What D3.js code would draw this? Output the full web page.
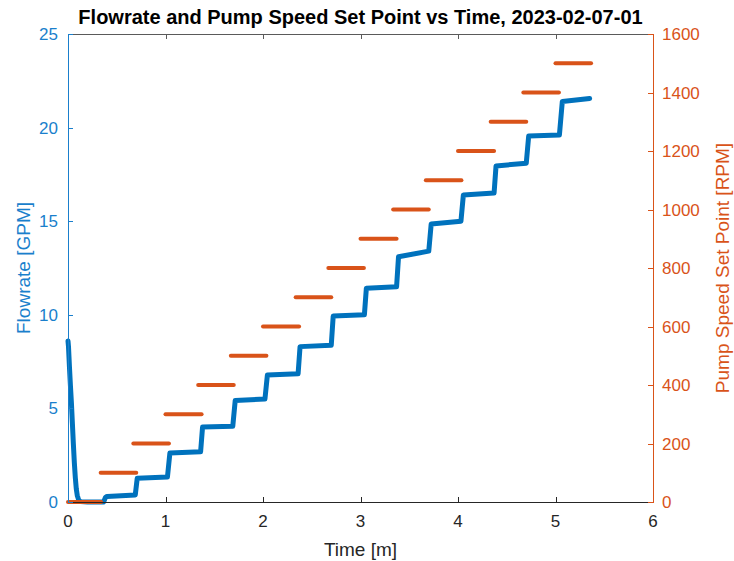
<!DOCTYPE html>
<html>
<head>
<meta charset="utf-8">
<script src="https://cdn.jsdelivr.net/npm/d3@7"></script>
<style>
    body { margin: 0; background: #ffffff; }
    svg { display: block; font-family: "Liberation Sans", Arial, sans-serif; }
</style>
</head>
<body>
<div class="chart"></div>
<script>
// Flowrate trace (time in minutes, flow in GPM)
const flowTime = [0, 0.005, 0.015, 0.025, 0.035, 0.045, 0.055, 0.065, 0.075, 0.085, 0.095, 0.11, 0.13, 0.2, 0.3, 0.365,
    0.385, 0.40, 0.69,
    0.71, 1.02,
    1.045, 1.36,
    1.38, 1.69,
    1.715, 2.02,
    2.045, 2.36,
    2.38, 2.70,
    2.72, 3.04,
    3.06, 3.37,
    3.39, 3.70,
    3.725, 4.03,
    4.055, 4.37,
    4.39, 4.70,
    4.725, 5.04,
    5.07, 5.35];
const flowGpm = [8.6, 8.3, 7.2, 6.2, 5.3, 4.2, 3.1, 2.1, 1.3, 0.7, 0.35, 0.1, 0.02, 0, 0, 0,
    0.25, 0.30, 0.38,
    1.27, 1.33,
    2.62, 2.68,
    4.0, 4.05,
    5.42, 5.5,
    6.78, 6.85,
    8.3, 8.37,
    9.93, 10.0,
    11.42, 11.5,
    13.1, 13.4,
    14.85, 15.0,
    16.4, 16.5,
    17.95, 18.1,
    19.55, 19.6,
    21.4, 21.55];

// Pump speed set point steps
const spRpm = [0, 100, 200, 300, 400, 500, 600, 700, 800, 900, 1000, 1100, 1200, 1300, 1400, 1500];
const spStart = [0, 0.335, 0.67, 1.0, 1.335, 1.67, 2.0, 2.335, 2.67, 3.0, 3.335, 3.67, 4.0, 4.335, 4.67, 5.0];
const spEnd = [0.34, 0.70, 1.035, 1.37, 1.70, 2.035, 2.37, 2.70, 3.035, 3.37, 3.70, 4.035, 4.37, 4.70, 5.035, 5.365];

const xTicks = [0, 1, 2, 3, 4, 5, 6];
const leftTicks = [0, 5, 10, 15, 20, 25];
const rightTicks = [0, 200, 400, 600, 800, 1000, 1200, 1400, 1600];

const blue = '#0072bd';
const orange = '#d95319';
const blueAxis = '#1a7fcc';
const orangeAxis = '#d95319';
const dark = '#262626';

const width = 734, height = 561;
const margin = { top: 34, right: 81, bottom: 59, left: 68 };

function renderChart() {
    const svg = d3.select('.chart').append('svg')
        .attr('width', width)
        .attr('height', height);

    const x = d3.scaleLinear().domain([0, 6]).range([margin.left, width - margin.right]);
    const yL = d3.scaleLinear().domain([0, 25]).range([height - margin.bottom, margin.top]);
    const yR = d3.scaleLinear().domain([0, 1600]).range([height - margin.bottom, margin.top]);

    const x0 = margin.left, x1 = width - margin.right;
    const y0 = height - margin.bottom, y1 = margin.top;
    const tick = 5;

    // Flowrate trace
    const flowPoints = flowTime.map((t, i) => [t, flowGpm[i]]);
    const line = d3.line().x(d => x(d[0])).y(d => yL(d[1]));
    svg.append('path')
        .datum(flowPoints)
        .attr('d', line)
        .attr('fill', 'none')
        .attr('stroke', blue)
        .attr('stroke-width', 5)
        .attr('stroke-linejoin', 'round')
        .attr('stroke-linecap', 'round');

    // Set point segments
    svg.append('g').selectAll('line')
        .data(spRpm)
        .enter()
        .append('line')
        .attr('x1', (d, i) => x(spStart[i]))
        .attr('x2', (d, i) => x(spEnd[i]))
        .attr('y1', d => yR(d))
        .attr('y2', d => yR(d))
        .attr('stroke', orange)
        .attr('stroke-width', 4)
        .attr('stroke-linecap', 'round');

    // Box: bottom and top lines with inward ticks
    const frame = svg.append('g').attr('stroke', dark).attr('stroke-width', 1).attr('shape-rendering', 'crispEdges');
    frame.append('line').attr('x1', x0).attr('x2', x1).attr('y1', y0 + 0.5).attr('y2', y0 + 0.5);
    frame.append('line').attr('x1', x0).attr('x2', x1).attr('y1', y1 + 0.5).attr('y2', y1 + 0.5).attr('stroke', '#5a5a5a');
    xTicks.forEach(t => {
        frame.append('line').attr('x1', Math.round(x(t)) + 0.5).attr('x2', Math.round(x(t)) + 0.5).attr('y1', y0).attr('y2', y0 - tick);
        frame.append('line').attr('x1', Math.round(x(t)) + 0.5).attr('x2', Math.round(x(t)) + 0.5).attr('y1', y1).attr('y2', y1 + tick).attr('stroke', '#5a5a5a');
    });

    // Left axis (flowrate)
    const left = svg.append('g').attr('shape-rendering', 'crispEdges');
    left.append('line').attr('x1', x0 + 0.5).attr('x2', x0 + 0.5).attr('y1', y1).attr('y2', y0 + 1).attr('stroke', blueAxis);
    leftTicks.forEach(v => {
        left.append('line').attr('x1', x0).attr('x2', x0 + tick)
            .attr('y1', Math.round(yL(v)) + 0.5).attr('y2', Math.round(yL(v)) + 0.5).attr('stroke', blueAxis);
    });

    // Right axis (pump speed)
    const right = svg.append('g').attr('shape-rendering', 'crispEdges');
    right.append('line').attr('x1', x1 + 0.5).attr('x2', x1 + 0.5).attr('y1', y1).attr('y2', y0 + 1).attr('stroke', orangeAxis);
    rightTicks.forEach(v => {
        right.append('line').attr('x1', x1 - tick).attr('x2', x1)
            .attr('y1', Math.round(yR(v)) + 0.5).attr('y2', Math.round(yR(v)) + 0.5).attr('stroke', orangeAxis);
    });

    // Tick labels
    svg.append('g').selectAll('text')
        .data(xTicks)
        .enter()
        .append('text')
        .attr('x', d => x(d))
        .attr('y', y0 + 25)
        .attr('text-anchor', 'middle')
        .attr('font-size', 17)
        .attr('fill', dark)
        .text(d => d);

    svg.append('g').selectAll('text')
        .data(leftTicks)
        .enter()
        .append('text')
        .attr('x', x0 - 10)
        .attr('y', d => yL(d) + 6)
        .attr('text-anchor', 'end')
        .attr('font-size', 17)
        .attr('fill', blueAxis)
        .text(d => d);

    svg.append('g').selectAll('text')
        .data(rightTicks)
        .enter()
        .append('text')
        .attr('x', x1 + 9)
        .attr('y', d => yR(d) + 6)
        .attr('text-anchor', 'start')
        .attr('font-size', 17)
        .attr('fill', orangeAxis)
        .text(d => d);

    // Axis labels and title
    svg.append('text')
        .attr('x', (x0 + x1) / 2)
        .attr('y', 556)
        .attr('text-anchor', 'middle')
        .attr('font-size', 19)
        .attr('fill', dark)
        .text('Time [m]');

    svg.append('text')
        .attr('transform', `translate(30, ${(y0 + y1) / 2}) rotate(-90)`)
        .attr('text-anchor', 'middle')
        .attr('font-size', 19)
        .attr('fill', blueAxis)
        .text('Flowrate [GPM]');

    svg.append('text')
        .attr('transform', `translate(729, ${(y0 + y1) / 2}) rotate(-90)`)
        .attr('text-anchor', 'middle')
        .attr('font-size', 19)
        .attr('fill', orangeAxis)
        .text('Pump Speed Set Point [RPM]');

    svg.append('text')
        .attr('x', (x0 + x1) / 2)
        .attr('y', 24)
        .attr('text-anchor', 'middle')
        .attr('font-size', 20)
        .attr('font-weight', 'bold')
        .attr('fill', '#000000')
        .text('Flowrate and Pump Speed Set Point vs Time, 2023-02-07-01');
}

renderChart();
</script>
</body>
</html>
